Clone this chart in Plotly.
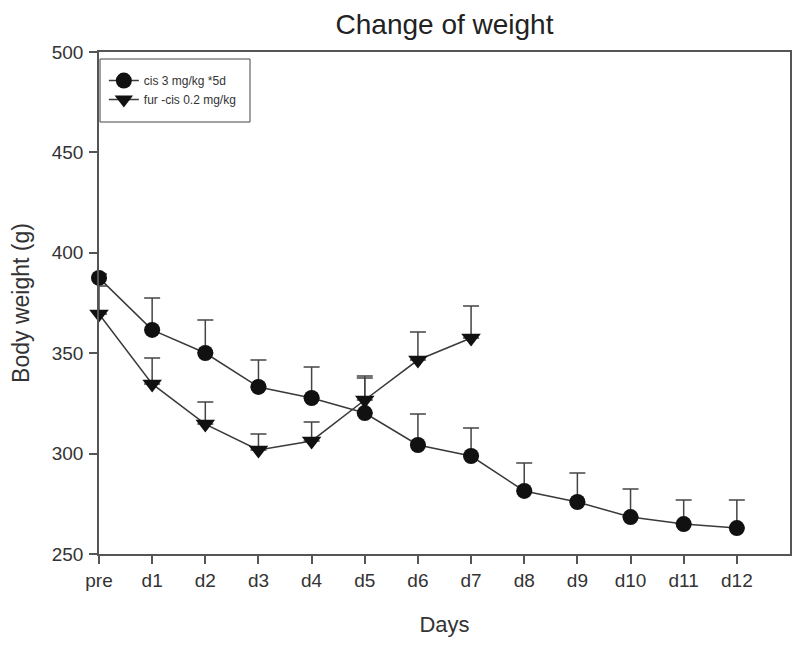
import plotly.graph_objects as go

days = ["pre", "d1", "d2", "d3", "d4", "d5", "d6", "d7", "d8", "d9", "d10", "d11", "d12"]

cis_mean = [387.5, 361.6, 350.1, 333.2, 327.7, 320.2, 304.3, 298.8, 281.4, 275.9, 268.4, 264.9, 262.9]
cis_sd = [2.0, 15.9, 16.4, 13.4, 15.4, 17.4, 15.4, 13.9, 13.9, 14.4, 14.0, 12.0, 14.0]

fur_days = ["pre", "d1", "d2", "d3", "d4", "d5", "d6", "d7"]
fur_mean = [369.5, 334.7, 314.7, 301.8, 306.3, 326.7, 346.6, 357.6]
fur_sd = [14.0, 12.9, 11.0, 8.0, 9.4, 11.9, 14.0, 15.9]

x_index = {d: i for i, d in enumerate(days)}

line_col = "#3a3a3a"
fig = go.Figure()
fig.add_trace(go.Scatter(
    x=[x_index[d] for d in days], y=cis_mean, name="cis 3 mg/kg *5d",
    mode="lines+markers",
    line=dict(color=line_col, width=1.5),
    marker=dict(symbol="circle", size=16, color="#111111"),
    error_y=dict(type="data", symmetric=False, array=cis_sd, arrayminus=[0] * len(cis_sd),
                 color="#444444", thickness=1.5, width=8),
))
fig.add_trace(go.Scatter(
    x=[x_index[d] for d in fur_days], y=fur_mean, name="fur -cis 0.2 mg/kg",
    mode="lines+markers",
    line=dict(color=line_col, width=1.5),
    marker=dict(symbol="triangle-down", size=17, color="#111111"),
    error_y=dict(type="data", symmetric=False, array=fur_sd, arrayminus=[0] * len(fur_sd),
                 color="#444444", thickness=1.5, width=8),
))

# page body has an 8px margin, so figure coords = page coords - 8
W, H = 792, 641
L, T, R, B = 91, 44, W - 91 - 691, H - 44 - 502

font_family = "Liberation Sans, Arial, sans-serif"
fig.update_layout(
    width=W, height=H,
    margin=dict(l=L, r=R, t=T, b=B),
    paper_bgcolor="white", plot_bgcolor="white",
    font=dict(family=font_family, color="#333333", size=19),
    title=dict(text="Change of weight", x=(L + 691 / 2) / W, xanchor="center",
               y=1 - 16 / H, yanchor="middle", font=dict(size=28, color="#222222")),
    showlegend=True,
    legend=dict(x=0.007, y=0.972, xanchor="left", yanchor="top",
                bgcolor="rgba(0,0,0,0)", borderwidth=0,
                font=dict(size=12, color="#333333"),
                itemwidth=30),
    shapes=[dict(type="rect", xref="paper", yref="paper",
                 x0=1 / 691, x1=151 / 691, y0=1 - 70 / 502, y1=1 - 7 / 502,
                 line=dict(color="#444444", width=1), fillcolor="rgba(0,0,0,0)", layer="below")],
    xaxis=dict(
        range=[0, 13], tickmode="array", tickvals=list(range(len(days))), ticktext=days,
        showgrid=False, zeroline=False, showline=True, linecolor="#555555", linewidth=1.5,
        mirror=True, ticks="outside", ticklen=8, tickcolor="#555555", tickwidth=1.5,
        automargin=False,
        title=dict(text="Days", font=dict(size=22), standoff=27),
    ),
    yaxis=dict(
        range=[250, 500], tickvals=[250, 300, 350, 400, 450, 500],
        showgrid=False, zeroline=False, showline=True, linecolor="#555555", linewidth=1.5,
        mirror=True, ticks="outside", ticklen=8, tickcolor="#555555", tickwidth=1.5,
        ticklabelstandoff=2,
        automargin=False,
        title=dict(text="Body weight (g)", font=dict(size=23), standoff=17),
    ),
)
fig.update_traces(cliponaxis=False)

fig.write_html("out.html")
